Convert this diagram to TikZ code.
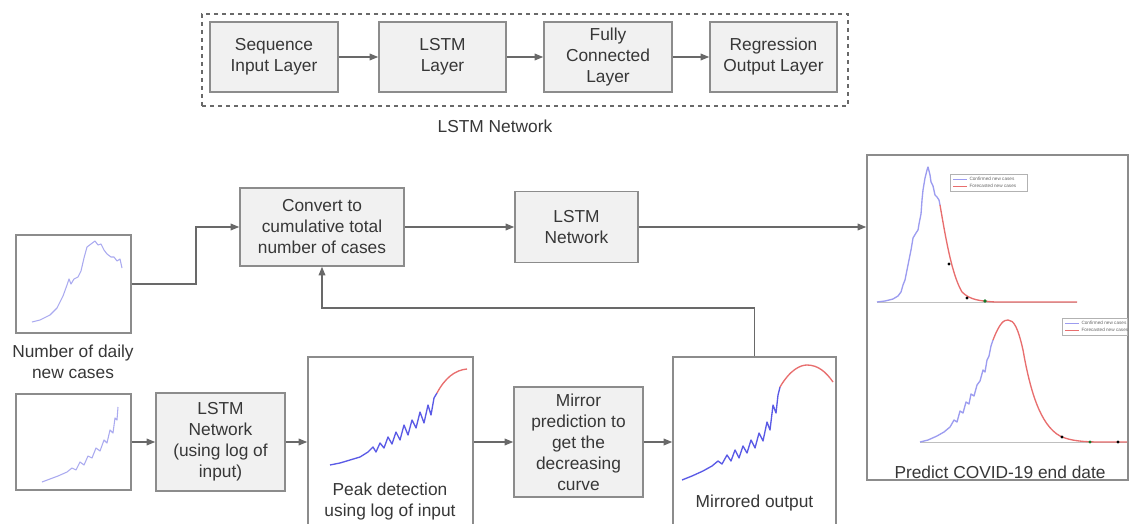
\documentclass[tikz,border=0pt]{standalone}
\usepackage{fontspec}
\setmainfont{Liberation Sans}
\usetikzlibrary{arrows.meta}

\definecolor{boxline}{RGB}{140,140,140}
\definecolor{boxfill}{RGB}{241,241,241}
\definecolor{flowline}{RGB}{105,105,105}
\definecolor{txtgray}{RGB}{55,55,55}
\definecolor{lightblue}{RGB}{170,170,240}
\definecolor{darkblue}{RGB}{90,90,230}
\definecolor{predred}{RGB}{232,110,110}
\definecolor{dotgreen}{RGB}{20,120,40}

\tikzset{every picture/.style={line width=0.75pt}}
\tikzset{
  labelfont/.style={font=\fontsize{13}{15.75}\selectfont, text=txtgray, align=center},
  layerbox/.style={labelfont, draw=boxline, fill=boxfill, line width=1.1pt, inner sep=0pt},
  chartbox/.style={draw=boxline, fill=white, line width=1.1pt, inner sep=0pt},
  flow/.style={draw=flowline, line width=1.1pt, -{Triangle[length=6.5pt,width=5pt]}},
  inputcurve/.style={draw=lightblue, line width=0.8pt, line join=round},
  seencurve/.style={draw=darkblue, line width=1pt, line join=round},
  predcurve/.style={draw=predred, line width=1pt},
  axisline/.style={draw=black!25, line width=0.6pt},
  legendbox/.style={draw=black!30, fill=white, line width=0.4pt},
  legendtext/.style={font=\fontsize{3.5}{4}\selectfont, text=black!60, anchor=west, inner sep=0pt},
}

\begin{document}
\begin{tikzpicture}[x=0.75pt,y=0.75pt,yscale=-1,xscale=1]
\useasboundingbox (0,0) rectangle (1130,524);

%Shape: Rectangle (dashed frame)
\node [draw=flowline, dashed, line width=1.1pt, minimum width=484.5pt, minimum height=69pt] (netframe) at (525,60) {};
% Layer boxes
\node [layerbox, minimum width=96pt, minimum height=52.5pt] (seqin) at (274,57) {Sequence\\Input Layer};
\node [layerbox, minimum width=95.25pt, minimum height=52.5pt] (lstmlayer) at (442.5,57) {LSTM\\Layer};
\node [layerbox, minimum width=96pt, minimum height=52.5pt] (fclayer) at (608,57) {Fully\\Connected\\Layer};
\node [layerbox, minimum width=95.25pt, minimum height=52.5pt] (regout) at (773.5,57) {Regression\\Output Layer};
% Text Node
\node [labelfont] (netlabel) at (495,126) {LSTM Network};

%Straight Lines
\draw [flow] (seqin) -- (lstmlayer);
\draw [flow] (lstmlayer) -- (fclayer);
\draw [flow] (fclayer) -- (regout);

%Shape: Rectangle (daily new cases)
\node [chartbox, minimum width=86.25pt, minimum height=73.5pt] (dailychart) at (73.5,284) {};
\draw [inputcurve] (32,322) -- (40,320) -- (50,315) -- (57,308) -- (63,296) -- (67,285) -- (69,279) -- (71,284) -- (74,279) -- (78,277) -- (81,271) -- (84,258) -- (87,247) -- (91,244) -- (95,241) -- (98,245) -- (101,244) -- (104,250) -- (107,254) -- (111,257) -- (114,257) -- (117,261) -- (120,259) -- (122,268);
% Text Node
\node [labelfont] (dailylabel) at (73,362) {Number of daily\\new cases};

% Process boxes (upper path)
\node [layerbox, minimum width=123pt, minimum height=58.5pt] (cumul) at (322,227) {Convert to\\cumulative total\\number of cases};
\node [layerbox, minimum width=92.25pt, minimum height=53.25pt] (lstmnet) at (576.5,227) {LSTM\\Network};

%Shape: Rectangle (prediction)
\node [chartbox, minimum width=195.75pt, minimum height=243.75pt] (predict) at (997.5,317.5) {};
% upper prediction plot
\draw [axisline] (877,302) -- (1077,302);
\draw [seencurve, draw=darkblue!60] (877,302) -- (885,301) -- (893,299) -- (898,296) -- (901,292) -- (903,285) -- (905,280) -- (907,270) -- (909,260) -- (911,250) -- (913,238) -- (916,233) -- (918,230) -- (919,224) -- (921,214) -- (922,200) -- (923,190) -- (925,178) -- (927,170) -- (928,167) -- (930,175) -- (931,182) -- (933,186) -- (935,195) -- (937,197) -- (939,200) -- (940,205);
\draw [predcurve] (940,205) .. controls (946,240) and (952,275) .. (962,292) .. controls (970,300) and (980,301) .. (995,302) -- (1077,302);
\fill [black] (949,264) circle (1.6);
\fill [black] (967,298) circle (1.6);
\fill [dotgreen] (985,301) circle (1.8);
\draw [legendbox] (950,174) rectangle (1027,191);
\draw [darkblue!60] (953,179) -- (967,179);
\draw [predred] (953,186) -- (967,186);
\node [legendtext] (legtopa) at (969,179) {Confirmed new cases};
\node [legendtext] (legtopb) at (969,186) {Forecasted new cases};
% lower prediction plot
\draw [axisline] (920,442) -- (1127,442);
\draw [seencurve, draw=darkblue!60] (920,442) -- (928,440) -- (937,436) -- (944,432) -- (950,427) -- (954,420) -- (957,422) -- (960,411) -- (963,413) -- (966,402) -- (969,404) -- (971,394) -- (974,396) -- (977,385) -- (980,381) -- (983,370) -- (985,372) -- (987,360) -- (989,356) -- (991,346) -- (993,340);
\draw [predcurve] (993,340) .. controls (1000,322) and (1004,320) .. (1008,320) .. controls (1014,320) and (1018,328) .. (1023,350) .. controls (1030,390) and (1040,425) .. (1060,436) .. controls (1070,441) and (1085,442) .. (1100,442) -- (1127,442);
\fill [black] (1062,437) circle (1.6);
\fill [dotgreen] (1090,442) circle (1.6);
\fill [black] (1118,442) circle (1.6);
\draw [legendbox] (1062,318) rectangle (1127,335);
\draw [darkblue!60] (1065,323) -- (1079,323);
\draw [predred] (1065,330) -- (1079,330);
\node [legendtext] (legbota) at (1081,323) {Confirmed new cases};
\node [legendtext] (legbotb) at (1081,330) {Forecasted new cases};
% Text Node
\node [labelfont] (predlabel) at (1000,472) {Predict COVID-19 end date};

% Lower path
\node [chartbox, minimum width=86.25pt, minimum height=72pt] (logchart) at (73.5,442) {};
\draw [inputcurve] (42,482) -- (50,479) -- (58,476) -- (67,472) -- (72,468) -- (76,470) -- (80,462) -- (84,465) -- (88,456) -- (92,458) -- (96,448) -- (100,451) -- (104,440) -- (107,443) -- (110,430) -- (113,433) -- (115,418) -- (117,420) -- (118,407);
\node [layerbox, minimum width=96.75pt, minimum height=73.5pt] (lstmlog) at (220.5,442) {LSTM\\Network\\(using log of\\input)};
\node [chartbox, minimum width=123.75pt, minimum height=127.5pt] (peak) at (390.5,442) {};
\draw [seencurve] (330,465) -- (340,463) -- (350,460) -- (360,457) -- (368,452) -- (373,447) -- (376,452) -- (380,443) -- (384,448) -- (388,437) -- (392,444) -- (396,432) -- (400,440) -- (404,425) -- (408,435) -- (412,420) -- (416,428) -- (420,412) -- (424,423) -- (428,405) -- (431,415) -- (434,398) -- (437,393);
\draw [predcurve] (437,393) .. controls (445,378) and (455,370) .. (467,369);
\node [labelfont] (peaklabel) at (390,502) {Peak detection\\using log of input};
\node [layerbox, minimum width=96.75pt, minimum height=82.5pt] (mirror) at (578.5,442) {Mirror\\prediction to\\get the\\decreasing\\curve};
\node [chartbox, minimum width=122.25pt, minimum height=127.5pt] (mirrored) at (754.5,442) {};
\draw [seencurve] (682,480) -- (692,476) -- (703,471) -- (712,466) -- (718,461) -- (722,464) -- (727,455) -- (731,461) -- (735,450) -- (739,458) -- (743,446) -- (747,453) -- (751,440) -- (755,448) -- (759,433) -- (763,441) -- (767,422) -- (770,430) -- (773,405) -- (776,413) -- (778,395) -- (780,387);
\draw [predcurve] (780,387) .. controls (790,370) and (800,365) .. (807,365) .. controls (818,365) and (826,372) .. (833,382);
\node [labelfont] (mirroredlabel) at (754.5,503) {Mirrored output};

%Straight Lines
\coordinate (dailybend) at (196,284);
\coordinate (feedback) at (754.5,308);
\draw [flow] (dailychart.east) -- (dailybend) |- (cumul.west);
\draw [flow] (cumul) -- (lstmnet);
\draw [flow] (lstmnet.east) -- (lstmnet.east -| predict.west);
\draw [flow] (logchart) -- (lstmlog);
\draw [flow] (lstmlog) -- (peak);
\draw [flow] (peak) -- (mirror);
\draw [flow] (mirror) -- (mirrored);
\draw [flow] (mirrored.north) -- (feedback) -| (cumul.south);

\end{tikzpicture}
\end{document}
